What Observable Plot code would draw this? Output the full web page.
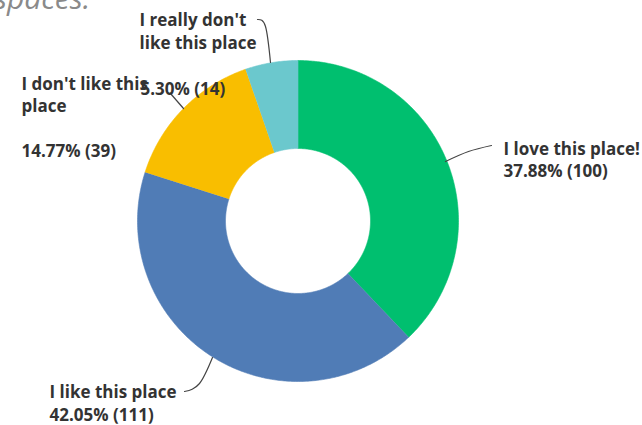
<!DOCTYPE html>
<html>
<head>
<meta charset="utf-8">
<script src="https://cdn.jsdelivr.net/npm/d3@7"></script>
<script src="https://cdn.jsdelivr.net/npm/@observablehq/plot@0.6"></script>
<style>
  html, body { margin: 0; padding: 0; background: #fff; }
  #wrap { position: relative; width: 642px; height: 425px; overflow: hidden; }
  #title { position: absolute; left: -6px; top: -23px; font-family: "Open Sans", sans-serif; font-style: italic; font-size: 30px; color: #8a8a8a; white-space: nowrap; }
</style>
</head>
<body>
<div id="wrap"><div id="title">spaces.</div></div>
<script>
// ---- data ----
const categories = ["I love this place!", "I like this place", "I don't like this place", "I really don't like this place"];
const counts = [100, 111, 39, 14];
const percents = ["37.88%", "42.05%", "14.77%", "5.30%"];
const colors = ["#00BF6F", "#507CB6", "#F9BE00", "#6BC8CD"];

// ---- layout ----
const W = 642, H = 425;
const cx = 297.5, cy = 220.5, R = 160.5, r = 72.5;
const font = "'Open Sans', sans-serif";

// slice polygons from d3.pie angles
const arcs = d3.pie().sort(null).value(d => d)(counts);
const slicePts = [];
arcs.forEach((a, i) => {
  const n = Math.max(4, Math.ceil((a.endAngle - a.startAngle) / 0.01));
  for (let k = 0; k <= n; k++) {
    const t = a.startAngle + (a.endAngle - a.startAngle) * k / n;
    slicePts.push({cat: categories[i], x: cx + R * Math.sin(t), y: cy - R * Math.cos(t)});
  }
  for (let k = n; k >= 0; k--) {
    const t = a.startAngle + (a.endAngle - a.startAngle) * k / n;
    slicePts.push({cat: categories[i], x: cx + r * Math.sin(t), y: cy - r * Math.cos(t)});
  }
});

const pctText = i => `${percents[i]} (${counts[i]})`;
const labels = [
  {x: 503, y: 158.5, text: `${categories[0]}\n${pctText(0)}`},
  {x: 49, y: 402, text: `${categories[1]}\n${pctText(1)}`},
  {x: 21, y: 115.5, text: `I don't like this\nplace\n\n${pctText(2)}`},
  {x: 139, y: 30, text: `I really don't\nlike this place`},
  {x: 140, y: 87.5, text: pctText(3)}
];

const leaders = [
  {id: 0, pts: [[445, 161], [468, 151], [491, 145]]},
  {id: 1, pts: [[184, 391], [199, 383], [212, 357]]},
  {id: 2, pts: [[170, 93], [183, 108]]},
  {id: 3, pts: [[257, 19], [265, 26], [270, 62]]}
].flatMap(l => l.pts.map(([x, y]) => ({id: l.id, x, y})));

const chart = Plot.plot({
  width: W, height: H,
  margin: 0,
  x: {domain: [0, W], range: [0, W], axis: null},
  y: {domain: [0, H], range: [0, H], axis: null},
  color: {domain: categories, range: colors},
  style: {fontFamily: font, background: "transparent"},
  marks: [
    Plot.line(slicePts, {x: "x", y: "y", z: "cat", fill: "cat", stroke: "cat", strokeWidth: 0.6, curve: "linear"}),
    Plot.line(leaders, {x: "x", y: "y", z: "id", stroke: "#444", strokeWidth: 1.2, curve: "natural"}),
    Plot.text(labels, {x: "x", y: "y", text: "text", textAnchor: "start", lineAnchor: "middle",
      fontSize: 17, fontWeight: "bold", lineHeight: 1.32, fill: "#333", fontFamily: font})
  ]
});
chart.style.position = "absolute";
chart.style.left = "0";
chart.style.top = "0";
document.getElementById("wrap").prepend(chart);
</script>
</body>
</html>
